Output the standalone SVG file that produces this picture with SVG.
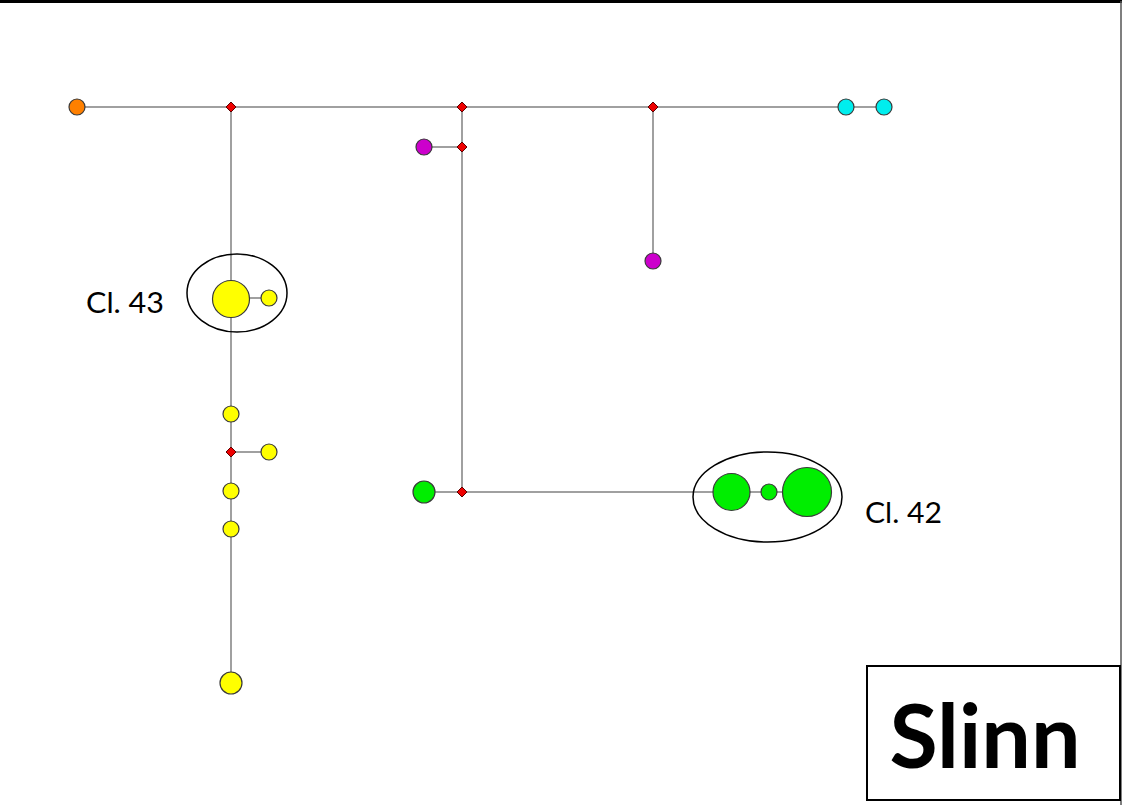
<svg xmlns="http://www.w3.org/2000/svg" width="1125" height="805" viewBox="0 0 1125 805">
<style>
.edge{stroke:#a0a0a0;stroke-width:2;fill:none}
.n{stroke:#3a3a3a;stroke-width:1.2}
.y{fill:#ffff00}.g{fill:#00ee00}.p{fill:#cc00cc}.c{fill:#00eeee}.o{fill:#ff8000}
.d{fill:#ee0000;stroke:#5a0000;stroke-width:1}
.ell{fill:none;stroke:#000;stroke-width:1.5}
.lbl{font-family:Lato,"Open Sans",sans-serif;font-size:28px;fill:#000}
</style>
<defs>
<path id="dm" d="M0,-5 L5,0 L0,5 L-5,0 Z"/>
</defs>
<rect width="1125" height="805" fill="#fff"/>
<path d="M0,1.5 H1122" stroke="#000" stroke-width="3"/>
<path d="M1121,1 V805" stroke="#555" stroke-width="1.5"/>
<g id="connectors">
<path class="edge" d="M77,107 H884"/>
<path class="edge" d="M231,107 V683"/>
<path class="edge" d="M231,298 H269"/>
<path class="edge" d="M231,452 H269"/>
<path class="edge" d="M462,107 V492"/>
<path class="edge" d="M424,147 H462"/>
<path class="edge" d="M653,107 V261"/>
<path class="edge" d="M424,492 H807"/>
</g>
<g id="hubs">
<use href="#dm" class="d" x="231" y="107"/>
<use href="#dm" class="d" x="462" y="107"/>
<use href="#dm" class="d" x="653" y="107"/>
<use href="#dm" class="d" x="462" y="147"/>
<use href="#dm" class="d" x="231" y="452"/>
<use href="#dm" class="d" x="462" y="492"/>
</g>
<g id="orange1"><circle class="n o" cx="77" cy="107" r="8"/></g>
<g id="cyan1"><circle class="n c" cx="846" cy="107" r="8"/></g>
<g id="cyan2"><circle class="n c" cx="884" cy="107" r="8"/></g>
<g id="purple1"><circle class="n p" cx="424" cy="147" r="8"/></g>
<g id="purple2"><circle class="n p" cx="653" cy="261" r="8"/></g>
<g id="cl43">
<ellipse class="ell" cx="237" cy="293" rx="50" ry="39"/>
<circle class="n y" cx="231" cy="299" r="18.5"/>
<circle class="n y" cx="269" cy="298" r="8"/>
<text class="lbl" x="86" y="313" textLength="78" lengthAdjust="spacingAndGlyphs">Cl. 43</text>
</g>
<g id="yellow1"><circle class="n y" cx="231" cy="414" r="8"/></g>
<g id="yellow2"><circle class="n y" cx="269" cy="452" r="8"/></g>
<g id="yellow3"><circle class="n y" cx="231" cy="491" r="8"/></g>
<g id="yellow4"><circle class="n y" cx="231" cy="529" r="8"/></g>
<g id="yellow5"><circle class="n y" cx="231" cy="683" r="11"/></g>
<g id="green1"><circle class="n g" cx="424" cy="492" r="11"/></g>
<g id="cl42">
<ellipse class="ell" cx="767.5" cy="497" rx="74.5" ry="45"/>
<circle class="n g" cx="731.5" cy="492" r="18.5"/>
<circle class="n g" cx="769" cy="492" r="8"/>
<circle class="n g" cx="807" cy="492" r="24.5"/>
<text class="lbl" x="865" y="523" textLength="77" lengthAdjust="spacingAndGlyphs">Cl. 42</text>
</g>
<g id="title">
<rect x="867" y="666" width="253" height="134" fill="#fff" stroke="#000" stroke-width="2"/>
<text x="985" y="768" text-anchor="middle" font-family="Lato,'Open Sans',sans-serif" font-weight="bold" font-size="88">Slinn</text>
</g>
</svg>
